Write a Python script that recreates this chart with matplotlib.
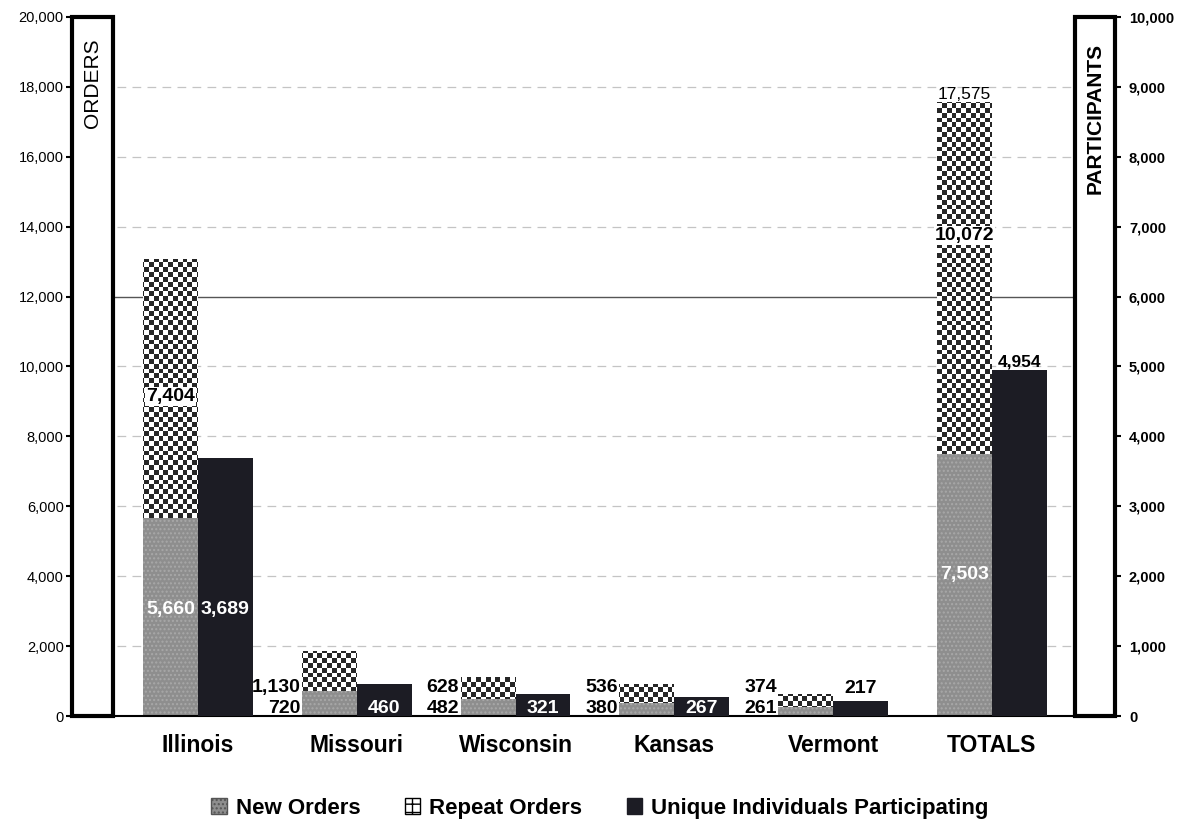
import numpy as np
import matplotlib
matplotlib.use("Agg")
import matplotlib.pyplot as plt
from matplotlib.patches import Rectangle, Patch

plt.rcParams['font.family'] = ['Liberation Sans', 'DejaVu Sans']
NARROW = ['Liberation Sans Narrow', 'Liberation Sans', 'DejaVu Sans']

categories = ["Illinois", "Missouri", "Wisconsin", "Kansas", "Vermont", "TOTALS"]
new_orders = [5660, 720, 482, 380, 261, 7503]
repeat_orders = [7404, 1130, 628, 536, 374, 10072]
unique_people = [3689, 460, 321, 267, 217, 4954]
order_ticks = [0, 2000, 4000, 6000, 8000, 10000, 12000, 14000, 16000, 18000, 20000]
people_ticks = [0, 1000, 2000, 3000, 4000, 5000, 6000, 7000, 8000, 9000, 10000]

W, H = 1183, 822
fig = plt.figure(figsize=(W / 100, H / 100), dpi=100)
ax_l, ax_r, ax_b, ax_t = 72, 1115, 716, 17
ax = fig.add_axes([ax_l / W, 1 - ax_b / H, (ax_r - ax_l) / W, (ax_b - ax_t) / H])
ax2 = ax.twinx()

x = np.arange(len(categories))
w = 0.346
xlim = (-0.793, 5.775)
ax.set_xlim(*xlim)
ax.set_ylim(0, 20000)
ax2.set_ylim(0, 10000)

new_c = '#8e8e8e'
dark_c = '#1c1c24'

# gridlines
for t in order_ticks[1:-1]:
    if t == 12000:
        ax.axhline(t, color='#555555', lw=1.0, zorder=0)
    else:
        ax.axhline(t, color='#c4c4c4', lw=0.9, ls=(0, (7, 5)), zorder=0)

bars_new = ax.bar(x - w / 2, new_orders, w, color=new_c, hatch='....',
                  edgecolor='#a8a8a8', linewidth=0, zorder=2)
bars_rep = ax.bar(x - w / 2, repeat_orders, w, bottom=new_orders,
                  color='white', linewidth=0, zorder=2)
bars_uni = ax2.bar(x + w / 2, unique_people, w, color=dark_c, linewidth=0, zorder=2)

# checkerboard texture for repeat orders
px_w, px_h = ax_r - ax_l, ax_b - ax_t
cell = 4.8
nx, ny = int(px_w / cell), int(px_h / cell)
checker = np.add.outer(np.arange(ny), np.arange(nx)) % 2
for b in bars_rep:
    im = ax.imshow(checker, cmap='Greys', vmin=0, vmax=1.15, interpolation='nearest',
                   extent=(xlim[0], xlim[1], 0, 20000), origin='lower',
                   aspect='auto', zorder=2.5)
    im.set_clip_path(b)
ax.set_xlim(*xlim)
ax.set_ylim(0, 20000)

# spines and boxes
for s in ['left', 'right', 'top']:
    ax.spines[s].set_visible(False)
    ax2.spines[s].set_visible(False)
ax.spines['bottom'].set_linewidth(1.5)
ax2.spines['bottom'].set_visible(False)
bw = (113 - 72) / px_w
rw = (1115 - 1075) / px_w
ax2.add_patch(Rectangle((0, 0), bw, 1, transform=ax.transAxes, facecolor='white',
                        edgecolor='black', lw=3, zorder=5, clip_on=False))
ax2.add_patch(Rectangle((1 - rw, 0), rw, 1, transform=ax.transAxes, facecolor='white',
                        edgecolor='black', lw=3, zorder=5, clip_on=False))
ax2.text(bw / 2, 0.905, "ORDERS", rotation=90, transform=ax.transAxes,
         ha='center', va='center', fontsize=15, zorder=6)
ax2.text(1 - rw / 2, 0.855, "PARTICIPANTS", rotation=90,
         transform=ax.transAxes, ha='center', va='center', fontsize=15,
         fontweight='bold', zorder=6)

ax.set_yticks(order_ticks)
ax.set_yticklabels([f"{t:,}" for t in order_ticks], fontsize=10.5)
ax2.set_yticks(people_ticks)
ax2.set_yticklabels([f"{t:,}" for t in people_ticks], fontsize=10.5, fontweight='bold')
ax.tick_params(axis='y', length=4, width=1.5, pad=2)
ax2.tick_params(axis='y', length=4, width=1.5, pad=6)
ax.set_xticks(x)
ax.set_xticklabels(categories, fontsize=16.5, fontweight='bold', family=NARROW)
ax.tick_params(axis='x', length=0, pad=13)

# value labels
lab = dict(fontsize=14, fontweight='bold', family=NARROW, zorder=7)
white_box = dict(boxstyle='square,pad=0.05', facecolor='white', edgecolor='none')
for i in range(len(categories)):
    xs, xu = x[i] - w / 2, x[i] + w / 2
    n, r, u = new_orders[i], repeat_orders[i], unique_people[i]
    if i in (0, 5):
        ax.text(xs, n * 0.54, f"{n:,}", color='white', ha='center', va='center', **lab)
        frac = 0.47 if i == 0 else 0.62
        ax.text(xs, n + r * frac, f"{r:,}", color='black', ha='center', va='center',
                bbox=white_box, **lab)
        if i == 0:
            ax2.text(xu, n * 0.54 / 2, f"{u:,}", color='white', ha='center',
                     va='center', **lab)
        else:
            ax.text(xs, n + r, f"{n + r:,}", color='black', ha='center', va='bottom',
                    fontsize=12.5, zorder=7)
            ax2.text(xu, u, f"{u:,}", color='black', ha='center', va='bottom',
                     fontsize=12.5, fontweight='bold', zorder=7)
    else:
        left = xs - w / 2
        ax.annotate(f"{n:,}", (left, 0), xytext=(-1, 2.5), textcoords='offset points',
                    ha='right', va='baseline', **lab)
        ax.annotate(f"{r:,}", (left, 0), xytext=(-1, 17.5), textcoords='offset points',
                    ha='right', va='baseline', **lab)
        if i == 4:
            ax2.annotate(f"{u:,}", (xu, u), xytext=(0, 3), textcoords='offset points',
                         ha='center', va='bottom', **lab)
        else:
            ax2.annotate(f"{u:,}", (xu, 0), xytext=(0, 2.5), textcoords='offset points',
                         ha='center', va='baseline', color='white', **lab)

handles = [Patch(facecolor=new_c, hatch='....', edgecolor='#555555', label='New Orders'),
           Patch(facecolor='white', hatch='++', edgecolor='black', label='Repeat Orders'),
           Patch(facecolor=dark_c, edgecolor=dark_c, label='Unique Individuals Participating')]
fig.legend(handles=handles, loc='center', bbox_to_anchor=(0.507, 1 - 808 / H), ncol=3,
           frameon=False, prop=dict(family=NARROW, weight='bold', size=16),
           handlelength=0.7, handleheight=0.7, handletextpad=0.4, columnspacing=2.0)

fig.savefig("out.png", dpi=100, facecolor='white')
